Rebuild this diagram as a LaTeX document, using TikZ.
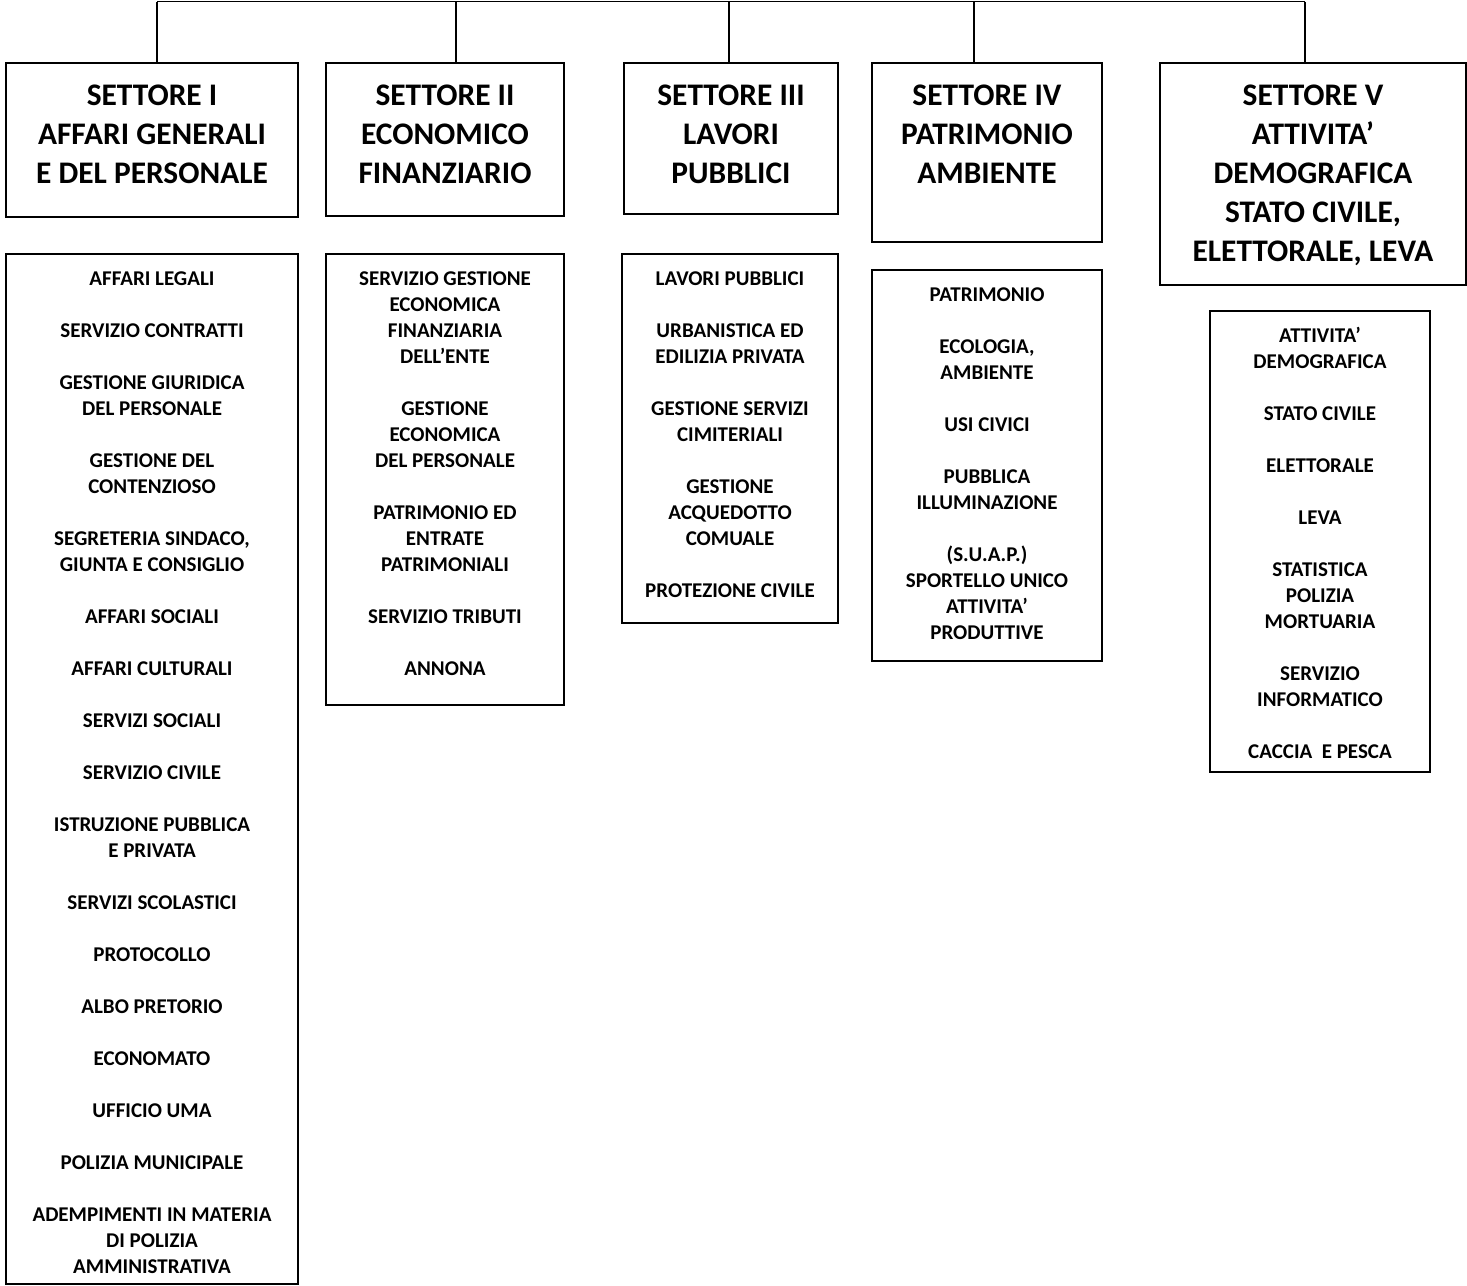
\documentclass[tikz,border=0pt]{standalone}
\usepackage{fontspec}
\setmainfont{Carlito}
\begin{document}
\begin{tikzpicture}[x=0.5pt,y=-0.5pt,
  frame/.style={draw, line width=1pt, inner sep=0pt, anchor=north west},
  head/.style={anchor=north, inner sep=0pt, align=center, font=\fontsize{15.7}{19.5}\selectfont\bfseries},
  body/.style={anchor=north, inner sep=0pt, align=center, font=\fontsize{10.5}{13}\selectfont\bfseries},
  link/.style={line width=0.75pt}]
\useasboundingbox (0,0) rectangle (1467,1285);
% heading boxes
\node[frame, minimum width=146pt, minimum height=77pt]   (h1) at (5,62) {};
\node[frame, minimum width=119pt, minimum height=76.5pt] (h2) at (325,62) {};
\node[frame, minimum width=107pt, minimum height=75.5pt] (h3) at (623,62) {};
\node[frame, minimum width=115pt, minimum height=89.5pt] (h4) at (871,62) {};
\node[frame, minimum width=153pt, minimum height=111pt]  (h5) at (1159,62) {};
% body boxes
\node[frame, minimum width=146pt, minimum height=515pt]   (b1) at (5,253) {};
\node[frame, minimum width=119pt, minimum height=225.5pt] (b2) at (325,253) {};
\node[frame, minimum width=108pt, minimum height=184.5pt] (b3) at (621,253) {};
\node[frame, minimum width=115pt, minimum height=195.5pt] (b4) at (871,269) {};
\node[frame, minimum width=110pt, minimum height=230.5pt] (b5) at (1209,310) {};
% heading texts
\node[head] (h1t) at ([yshift=-11.5pt]h1.north) {SETTORE I\\AFFARI GENERALI\\E DEL PERSONALE};
\node[head] (h2t) at ([yshift=-11.5pt]h2.north) {SETTORE II\\ECONOMICO\\FINANZIARIO};
\node[head] (h3t) at ([yshift=-11.5pt]h3.north) {SETTORE III\\LAVORI\\PUBBLICI};
\node[head] (h4t) at ([yshift=-11.5pt]h4.north) {SETTORE IV\\PATRIMONIO\\AMBIENTE};
\node[head] (h5t) at ([yshift=-11.5pt]h5.north) {SETTORE V\\ATTIVITA’\\DEMOGRAFICA\\STATO CIVILE,\\ELETTORALE, LEVA};
% body texts
\node[body] (b1t) at ([yshift=-9pt]b1.north) {AFFARI LEGALI\\[13pt]SERVIZIO CONTRATTI\\[13pt]GESTIONE GIURIDICA\\DEL PERSONALE\\[13pt]GESTIONE DEL\\CONTENZIOSO\\[13pt]SEGRETERIA SINDACO,\\GIUNTA E CONSIGLIO\\[13pt]AFFARI SOCIALI\\[13pt]AFFARI CULTURALI\\[13pt]SERVIZI SOCIALI\\[13pt]SERVIZIO CIVILE\\[13pt]ISTRUZIONE PUBBLICA\\E PRIVATA\\[13pt]SERVIZI SCOLASTICI\\[13pt]PROTOCOLLO\\[13pt]ALBO PRETORIO\\[13pt]ECONOMATO\\[13pt]UFFICIO UMA\\[13pt]POLIZIA MUNICIPALE\\[13pt]ADEMPIMENTI IN MATERIA\\DI POLIZIA\\AMMINISTRATIVA};
\node[body] (b2t) at ([yshift=-9pt]b2.north) {SERVIZIO GESTIONE\\ECONOMICA\\FINANZIARIA\\DELL’ENTE\\[13pt]GESTIONE\\ECONOMICA\\DEL PERSONALE\\[13pt]PATRIMONIO ED\\ENTRATE\\PATRIMONIALI\\[13pt]SERVIZIO TRIBUTI\\[13pt]ANNONA};
\node[body] (b3t) at ([yshift=-9pt]b3.north) {LAVORI PUBBLICI\\[13pt]URBANISTICA ED\\EDILIZIA PRIVATA\\[13pt]GESTIONE SERVIZI\\CIMITERIALI\\[13pt]GESTIONE\\ACQUEDOTTO\\COMUALE\\[13pt]PROTEZIONE CIVILE};
\node[body] (b4t) at ([yshift=-9pt]b4.north) {PATRIMONIO\\[13pt]ECOLOGIA,\\AMBIENTE\\[13pt]USI CIVICI\\[13pt]PUBBLICA\\ILLUMINAZIONE\\[13pt](S.U.A.P.)\\SPORTELLO UNICO\\ATTIVITA’\\PRODUTTIVE};
\node[body] (b5t) at ([yshift=-8.5pt]b5.north) {ATTIVITA’\\DEMOGRAFICA\\[13pt]STATO CIVILE\\[13pt]ELETTORALE\\[13pt]LEVA\\[13pt]STATISTICA\\POLIZIA\\MORTUARIA\\[13pt]SERVIZIO\\INFORMATICO\\[13pt]CACCIA\ \ E PESCA};
% connector bar
\coordinate (t1) at (157,1.5);
\coordinate (t2) at (456,1.5);
\coordinate (t3) at (729,1.5);
\coordinate (t4) at (974,1.5);
\coordinate (t5) at (1305,1.5);
\draw[link] (t1) -- (t5);
\draw[link] (t1) -- (t1 |- h1.north);
\draw[link] (t2) -- (t2 |- h2.north);
\draw[link] (t3) -- (t3 |- h3.north);
\draw[link] (t4) -- (t4 |- h4.north);
\draw[link] (t5) -- (t5 |- h5.north);
\end{tikzpicture}
\end{document}
